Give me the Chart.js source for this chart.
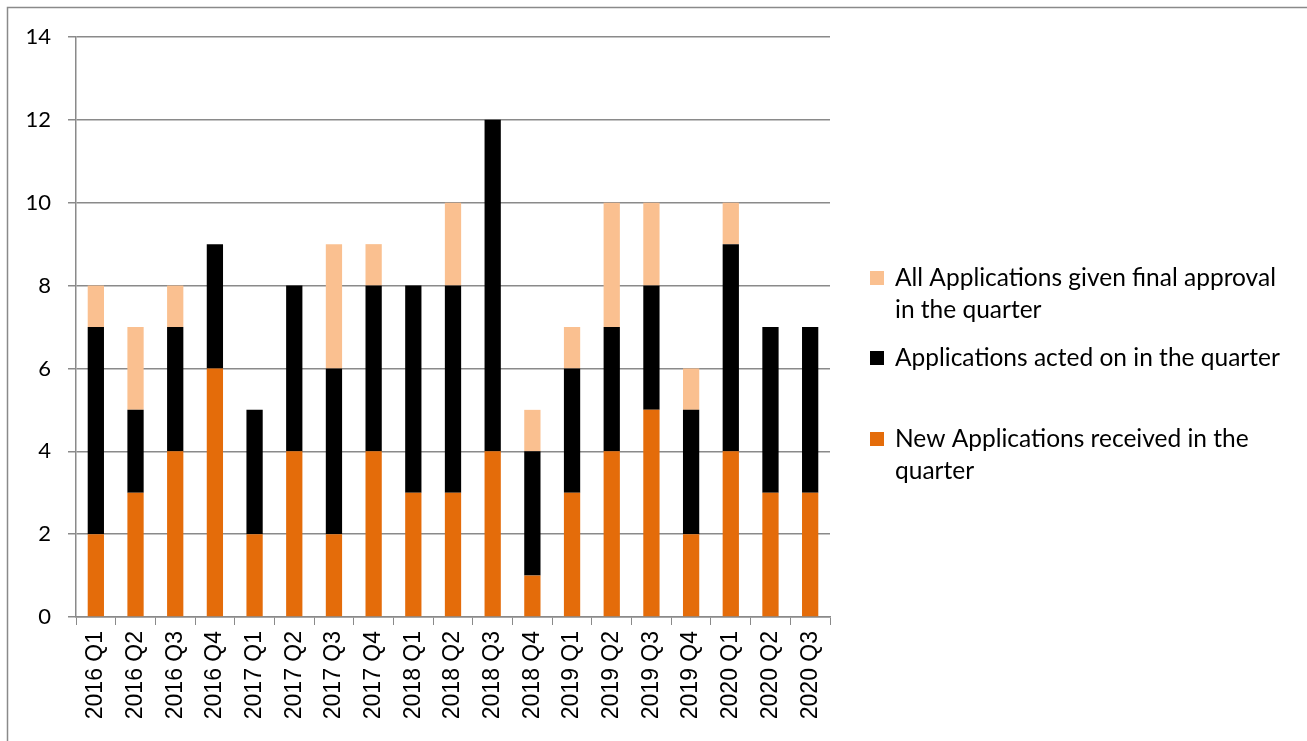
<!DOCTYPE html>
<html>
<head>
<meta charset="utf-8">
<script src="https://cdn.jsdelivr.net/npm/chart.js@4/dist/chart.umd.min.js"></script>
<style>
html,body{margin:0;padding:0;background:#fff;}
#wrap{position:relative;width:1307px;height:741px;}
</style>
</head>
<body>
<div id="wrap"><canvas id="c" width="1307" height="741"></canvas></div>
<script>
const categories = ["2016 Q1","2016 Q2","2016 Q3","2016 Q4","2017 Q1","2017 Q2","2017 Q3","2017 Q4","2018 Q1","2018 Q2","2018 Q3","2018 Q4","2019 Q1","2019 Q2","2019 Q3","2019 Q4","2020 Q1","2020 Q2","2020 Q3"];
const newApplications = [2,3,4,6,2,4,2,4,3,3,4,1,3,4,5,2,4,3,3];
const actedOn =        [5,2,3,3,3,4,4,4,5,5,8,3,3,3,3,3,5,4,4];
const finalApproval =  [1,2,1,0,0,0,3,1,0,2,0,1,1,3,2,1,1,0,0];
const yTicks = [0,2,4,6,8,10,12,14];

const seriesNames = [
  "New Applications received in the quarter",
  "Applications acted on in the quarter",
  "All Applications given final approval in the quarter"
];
const legendLines = [
  ["New Applications received in the", "quarter"],
  ["Applications acted on in the quarter"],
  ["All Applications given final approval", "in the quarter"]
];
const colors = ["#E46C0A", "#000000", "#FAC090"];

const framePlugin = {
  id: 'frame',
  beforeDraw(chart) {
    const ctx = chart.ctx;
    ctx.save();
    ctx.strokeStyle = '#8a8a8a';
    ctx.lineWidth = 1.5;
    ctx.strokeRect(7.5, 7.5, 1320, 760);
    ctx.restore();
  }
};

const legendPlugin = {
  id: 'customLegend',
  afterDraw(chart) {
    const ctx = chart.ctx;
    ctx.save();
    ctx.font = '24.5px Lato';
    ctx.textBaseline = 'middle';
    ctx.fillStyle = '#000';
    const tops = [439, 358, 278];
    for (let i = 0; i < 3; i++) {
      const y0 = tops[i];
      ctx.fillStyle = chart.data.datasets[i].backgroundColor;
      ctx.fillRect(870, y0 - 7, 14, 14);
      ctx.fillStyle = '#000';
      legendLines[i].forEach((ln, k) => ctx.fillText(ln, 895, y0 + k * 32));
    }
    ctx.restore();
  }
};

new Chart(document.getElementById('c'), {
  type: 'bar',
  data: {
    labels: categories,
    datasets: [
      { label: seriesNames[0], data: newApplications, backgroundColor: colors[0] },
      { label: seriesNames[1], data: actedOn, backgroundColor: colors[1] },
      { label: seriesNames[2], data: finalApproval, backgroundColor: colors[2] }
    ]
  },
  options: {
    responsive: false,
    animation: false,
    layout: { padding: { left: 0, right: 477, top: 37, bottom: 0 } },
    datasets: { bar: { categoryPercentage: 1.0, barPercentage: 0.41 } },
    plugins: { legend: { display: false }, tooltip: { enabled: false } },
    scales: {
      x: {
        stacked: true,
        afterFit(s) { s.height = 124; },
        grid: { drawOnChartArea: false, color: '#8a8a8a', tickLength: 8, offset: true },
        border: { color: '#8a8a8a', width: 1.5 },
        ticks: { color: '#000', font: { family: 'Liberation Sans', size: 23 }, minRotation: 90, maxRotation: 90, autoSkip: false, padding: 6 }
      },
      y: {
        stacked: true,
        min: 0, max: 14,
        afterBuildTicks(s) { s.ticks = yTicks.map(v => ({ value: v })); },
        afterFit(s) { s.width = 76; },
        grid: { color: '#8a8a8a', lineWidth: 1.5, tickLength: 8 },
        border: { color: '#8a8a8a', width: 1.5 },
        ticks: { color: '#000', font: { family: 'Lato', size: 22 }, padding: 17 }
      }
    }
  },
  plugins: [framePlugin, legendPlugin]
});
</script>
</body>
</html>
